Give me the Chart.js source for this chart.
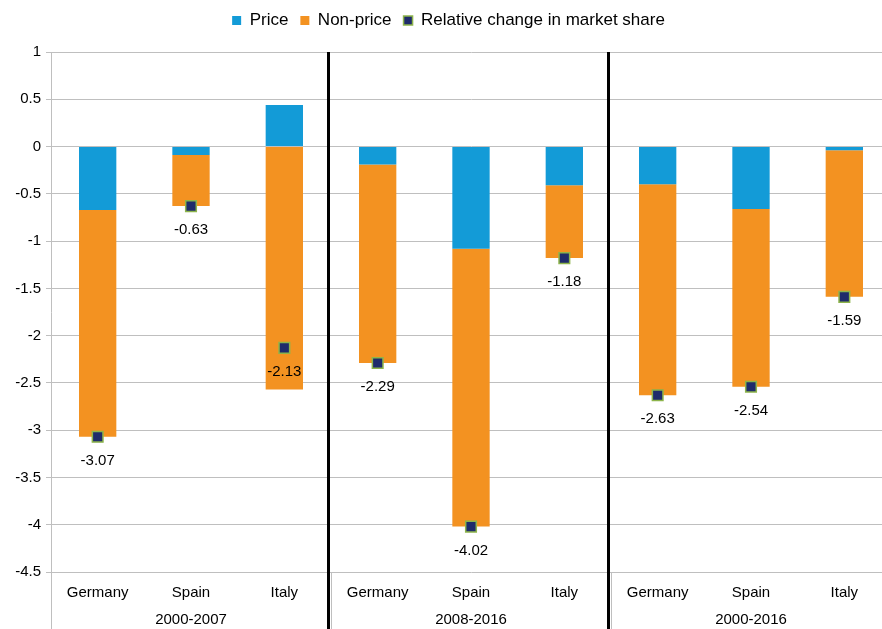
<!DOCTYPE html>
<html>
<head>
<meta charset="utf-8">
<script src="https://cdn.jsdelivr.net/npm/chart.js@4.4.1/dist/chart.umd.min.js"></script>
<style>
    html, body { margin: 0; padding: 0; background: #fff; overflow: hidden; }
    #wrap { width: 900px; height: 629px; }
</style>
</head>
<body>
<div id="wrap"><canvas id="shareChart" width="900" height="629"></canvas></div>
<script>
// ------------------- Data -------------------
const countries = ['Germany', 'Spain', 'Italy', 'Germany', 'Spain', 'Italy', 'Germany', 'Spain', 'Italy'];
const periods = ['2000-2007', '2008-2016', '2000-2016'];
const priceValues = [-0.67, -0.09, 0.44, -0.19, -1.08, -0.41, -0.40, -0.66, -0.04];
const nonPriceValues = [-2.40, -0.54, -2.57, -2.10, -2.94, -0.77, -2.23, -1.88, -1.55];
const marketShareChange = [-3.07, -0.63, -2.13, -2.29, -4.02, -1.18, -2.63, -2.54, -1.59];

const FONT = "'Liberation Sans', Arial, sans-serif";

// ------------------- Legend spacing -------------------
// leave a gap between the legend row and the plot area
const legendGap = {
    id: 'legendGap',
    beforeLayout(chart) {
        const lg = chart.legend;
        if (lg && !lg._gapPatched) {
            const fit = lg.fit;
            lg.fit = function () {
                fit.call(this);
                this.height += 13;
            };
            lg._gapPatched = true;
        }
    }
};

// ------------------- Extra drawing: labels, separators, periods -------------------
const annotations = {
    id: 'annotations',
    afterDraw(chart) {
        const ctx = chart.ctx;
        const x = chart.scales.x;
        const area = chart.chartArea;
        const bottom = chart.height;
        ctx.save();

        // value labels under the markers
        const meta = chart.getDatasetMeta(2);
        ctx.font = '15px ' + FONT;
        ctx.fillStyle = '#000';
        ctx.textAlign = 'center';
        ctx.textBaseline = 'middle';
        meta.data.forEach((pt, i) => {
            ctx.fillText(marketShareChange[i].toFixed(2), pt.x, pt.y + 24);
        });

        // y axis line continues down through the label area
        ctx.strokeStyle = '#BFBFBF';
        ctx.lineWidth = 1;
        ctx.beginPath();
        ctx.moveTo(area.left + 0.5, area.bottom);
        ctx.lineTo(area.left + 0.5, bottom);
        ctx.stroke();

        // group boundaries
        [3, 6].forEach(k => {
            const bx = Math.round((x.getPixelForValue(k - 1) + x.getPixelForValue(k)) / 2);
            ctx.strokeStyle = '#BFBFBF';
            ctx.lineWidth = 1;
            ctx.beginPath();
            ctx.moveTo(bx + 0.5, area.bottom);
            ctx.lineTo(bx + 0.5, bottom);
            ctx.stroke();

            ctx.strokeStyle = '#000';
            ctx.lineWidth = 3;
            ctx.beginPath();
            ctx.moveTo(bx - 2.5, area.top);
            ctx.lineTo(bx - 2.5, bottom);
            ctx.stroke();
        });

        // period labels
        ctx.fillStyle = '#000';
        ctx.font = '15px ' + FONT;
        periods.forEach((p, g) => {
            ctx.fillText(p, x.getPixelForValue(g * 3 + 1), 620);
        });
        ctx.restore();
    }
};

// ------------------- Chart -------------------
function initShareChart() {
    const ctx = document.getElementById('shareChart');
    new Chart(ctx.getContext('2d'), {
        data: {
            labels: countries,
            datasets: [
                {
                    type: 'bar',
                    label: 'Price',
                    data: priceValues,
                    backgroundColor: '#139BD7',
                    barPercentage: 0.4,
                    categoryPercentage: 1,
                    stack: 'contrib',
                    order: 2
                },
                {
                    type: 'bar',
                    label: 'Non-price',
                    data: nonPriceValues,
                    backgroundColor: '#F39221',
                    barPercentage: 0.4,
                    categoryPercentage: 1,
                    stack: 'contrib',
                    order: 2
                },
                {
                    type: 'line',
                    label: 'Relative change in market share',
                    data: marketShareChange,
                    showLine: false,
                    pointStyle: 'rect',
                    pointRadius: 7.5,
                    pointHoverRadius: 7.5,
                    backgroundColor: '#1F2B6B',
                    borderColor: '#8DB44B',
                    pointBorderWidth: 1.5,
                    borderWidth: 1.5,
                    stack: 'marker',
                    order: 1
                }
            ]
        },
        options: {
            responsive: false,
            animation: false,
            layout: { padding: { left: 0, right: 3, top: 0, bottom: 0 } },
            plugins: {
                legend: {
                    position: 'top',
                    labels: {
                        boxWidth: 9,
                        boxHeight: 9,
                        padding: 12,
                        color: '#000',
                        font: { family: FONT, size: 17 },
                        sort: (a, b) => a.datasetIndex - b.datasetIndex
                    }
                },
                tooltip: { enabled: false }
            },
            scales: {
                x: {
                    stacked: true,
                    grid: { display: false },
                    border: { display: false },
                    ticks: {
                        color: '#000',
                        padding: 4,
                        font: { family: FONT, size: 15 }
                    },
                    afterFit(scale) { scale.height = 57; }
                },
                y: {
                    stacked: true,
                    min: -4.5,
                    max: 1,
                    ticks: {
                        stepSize: 0.5,
                        color: '#000',
                        padding: 5,
                        font: { family: FONT, size: 15 },
                        callback: v => String(Math.round(v * 10) / 10)
                    },
                    grid: { color: '#BFBFBF', tickLength: 5 },
                    border: { color: '#BFBFBF' },
                    afterFit(scale) { scale.width = 51; }
                }
            }
        },
        plugins: [legendGap, annotations]
    });
}

document.addEventListener('DOMContentLoaded', () => {
    initShareChart();
});
</script>
</body>
</html>
